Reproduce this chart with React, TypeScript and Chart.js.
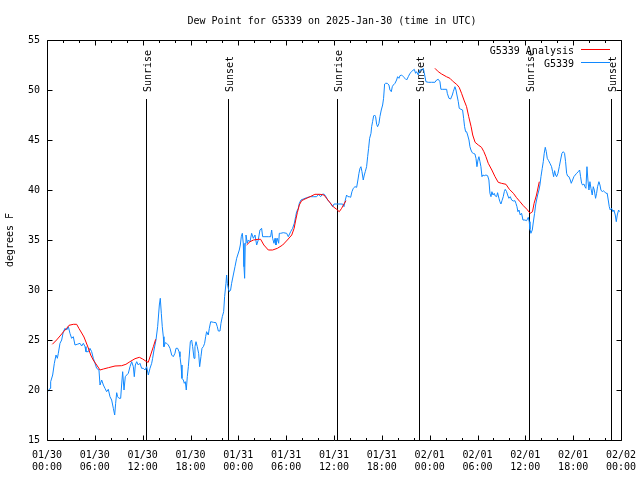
import React, { useEffect, useRef } from 'react';
import { Chart, registerables } from 'chart.js';

Chart.register(...registerables);

const FONT = "'DejaVu Sans Mono', 'Liberation Mono', monospace";

const chartTitle = 'Dew Point for G5339 on 2025-Jan-30 (time in UTC)';
const yAxisTitle = 'degrees F';
const obsLabel = 'G5339';
const anaLabel = 'G5339 Analysis';

// x tick labels, one every 6 hours from 01/30 00:00 UTC
const xTickDates = ['01/30', '01/30', '01/30', '01/30', '01/31', '01/31', '01/31', '01/31', '02/01', '02/01', '02/01', '02/01', '02/02'];
const xTickTimes = ['00:00', '06:00', '12:00', '18:00', '00:00', '06:00', '12:00', '18:00', '00:00', '06:00', '12:00', '18:00', '00:00'];

// sun events (hours since 01/30 00:00 UTC)
const sunHours = [12.42, 22.76, 36.42, 46.7, 60.5, 70.79];
const sunLabels = ['Sunrise', 'Sunset', 'Sunrise', 'Sunset', 'Sunrise', 'Sunset'];

// observations (hours since start, dew point in F)
const obsHours = [
  0.08, 0.38, 0.46, 0.71, 0.92, 1.13, 1.3, 1.42, 1.63, 1.84, 2.05, 2.26, 2.47, 2.68, 2.88, 3.09, 3.3, 3.51, 3.8, 4.14,
  4.35, 4.56, 4.77, 4.89, 5.18, 5.39, 5.6, 5.81, 6.02, 6.23, 6.52, 6.65, 6.86, 7.07, 7.27, 7.48, 7.69, 7.9, 8.11, 8.32,
  8.49, 8.61, 8.74, 8.86, 9.03, 9.24, 9.36, 9.49, 9.66, 9.82, 9.99, 10.2, 10.41, 10.62, 10.83, 10.95, 11.08, 11.25, 11.45, 11.66,
  11.87, 12.08, 12.29, 12.5, 12.71, 12.92, 13.13, 13.25, 13.42, 13.67, 13.88, 14.09, 14.21, 14.34, 14.46, 14.59, 14.67, 14.84, 15.01, 15.22,
  15.43, 15.64, 15.84, 16.05, 16.18, 16.39, 16.56, 16.68, 16.81, 16.93, 17.1, 17.22, 17.35, 17.47, 17.6, 17.73, 17.85, 17.98, 18.14, 18.27,
  18.44, 18.56, 18.69, 18.85, 19.02, 19.15, 19.31, 19.44, 19.61, 19.77, 19.9, 20.02, 20.23, 20.36, 20.53, 20.86, 21.2, 21.36, 21.49, 21.7,
  21.82, 21.99, 22.16, 22.28, 22.45, 22.53, 22.62, 22.74, 22.87, 23.03, 23.16, 23.37, 23.58, 23.79,
  24.12, 24.25, 24.37, 24.5, 24.62, 24.71, 24.79, 24.87, 24.96, 25.13, 25.25, 25.46, 25.67, 25.88, 26.09, 26.3, 26.5, 26.71, 26.92, 27.05,
  27.34, 27.76, 28.05, 28.18, 28.3, 28.47, 28.6, 28.72, 28.89, 29.06, 29.14, 29.31, 29.64, 30.06, 30.27, 30.56, 30.81, 31.02, 31.19, 31.31,
  31.52, 31.65, 31.86, 32.15, 32.57, 32.98, 33.4, 33.82, 34.07, 34.32, 34.57, 34.78, 34.99, 35.2, 35.41, 35.62, 35.83, 36.0, 36.33, 36.75,
  37.08, 37.25, 37.42, 37.58, 37.75, 37.92, 38.09, 38.25, 38.42, 38.63, 38.84, 39.0, 39.13, 39.26, 39.38, 39.51, 39.67, 39.8, 39.92, 40.09,
  40.22, 40.34, 40.47, 40.64, 40.72, 40.84, 40.97, 41.09, 41.22, 41.35, 41.47, 41.64, 41.76, 41.93, 42.1, 42.22, 42.35, 42.47, 42.68, 42.89,
  43.02, 43.19, 43.31, 43.44, 43.65, 43.85, 43.98, 44.15, 44.27, 44.48, 44.69, 44.9, 45.11, 45.32, 45.53, 45.74, 45.94, 46.07, 46.24, 46.36,
  46.57, 46.78, 46.99, 47.2, 47.32, 47.53, 47.83, 48.24, 48.66, 48.87, 49.08,
  49.29, 49.41, 49.58, 49.92, 50.13, 50.21, 50.42, 50.63, 50.84, 50.96, 51.17, 51.3, 51.42, 51.59, 51.71, 51.92, 52.13, 52.26, 52.38, 52.51,
  52.63, 52.76, 52.93, 53.05, 53.18, 53.34, 53.47, 53.68, 53.81, 53.93, 54.06, 54.18, 54.31, 54.43, 54.56, 54.68, 54.85, 55.06, 55.27, 55.43,
  55.56, 55.69, 55.81, 55.94, 56.1, 56.23, 56.4, 56.52, 56.69, 56.81, 56.94, 57.07, 57.23, 57.36, 57.48, 57.65, 57.78, 57.94, 58.11, 58.28,
  58.49, 58.7, 58.82, 58.95, 59.07, 59.2, 59.36, 59.53, 59.7, 59.95, 60.16, 60.37, 60.49, 60.58, 60.7, 60.87, 61.04, 61.16, 61.29, 61.41,
  61.54, 61.71, 61.83, 61.96, 62.12, 62.25, 62.37, 62.5, 62.63, 62.75, 62.92, 63.09, 63.29, 63.42, 63.55, 63.67, 63.8, 63.92, 64.09, 64.26,
  64.42, 64.59, 64.76, 64.92, 65.05, 65.18, 65.3, 65.47, 65.64, 65.76, 65.93, 66.09, 66.26, 66.43, 66.64, 66.81, 66.93, 67.06, 67.18, 67.35,
  67.47, 67.6, 67.73, 67.85, 67.98, 68.1, 68.23, 68.39, 68.52, 68.65, 68.81, 68.94, 69.06, 69.23, 69.36, 69.48, 69.65, 69.77, 69.94, 70.11,
  70.27, 70.4, 70.53, 70.65, 70.82, 70.99, 71.11, 71.28, 71.41, 71.53, 71.7, 71.82,
];
const obsDewF = [
  19.83, 20.17, 20.83, 21.5, 22.67, 23.5, 23.17, 23.67, 24.67, 25.0, 25.83, 26.17, 26.0, 26.33, 25.67, 25.17, 25.33, 24.5, 24.57, 24.67,
  24.4, 24.67, 24.33, 23.83, 23.83, 24.17, 23.83, 23.17, 22.67, 22.17, 22.0, 20.5, 21.0, 20.5, 20.17, 19.83, 20.07, 19.33, 19.0, 18.17,
  17.5, 18.67, 19.73, 19.33, 19.17, 19.17, 20.5, 21.83, 20.0, 21.33, 21.5, 21.67, 22.33, 22.83, 22.33, 21.33, 22.5, 22.83, 22.5, 22.67,
  22.17, 22.17, 22.0, 22.33, 21.5, 22.17, 22.67, 23.17, 24.0, 25.0, 26.33, 28.5, 29.17, 27.67, 26.33, 25.33, 24.33, 24.73, 24.67, 24.5,
  24.17, 23.5, 23.33, 23.67, 24.17, 24.17, 23.83, 23.33, 22.5, 21.17, 21.0, 20.67, 20.83, 20.0, 21.33, 22.33, 23.5, 24.83, 25.0, 24.33,
  23.17, 24.33, 24.83, 24.33, 23.67, 22.33, 23.33, 24.17, 24.33, 24.67, 25.33, 25.83, 25.5, 26.17, 26.83, 26.77, 26.73, 26.33, 25.9, 25.9,
  26.67, 27.33, 27.83, 29.33, 30.67, 31.5, 30.67, 30.17, 29.83, 30.0, 30.67, 31.5, 32.33, 33.17,
  34.0, 34.5, 35.33, 35.67, 34.67, 32.33, 31.17, 34.67, 35.5, 34.67, 35.0, 34.83, 35.67, 35.17, 35.5, 34.5, 35.0, 36.0, 36.17, 35.33,
  35.33, 35.33, 35.33, 36.0, 35.17, 34.67, 35.17, 34.5, 35.17, 34.67, 35.67, 35.67, 35.73, 35.67, 35.33, 35.83, 36.17, 36.67, 37.33, 37.83,
  38.17, 38.67, 39.0, 39.1, 39.23, 39.33, 39.33, 39.33, 39.57, 39.33, 39.6, 39.57, 39.33, 39.0, 38.83, 38.6, 38.33, 38.6, 38.6, 38.6,
  38.6, 38.33, 39.0, 39.5, 39.33, 39.33, 39.27, 39.83, 40.17, 40.33, 40.27, 41.0, 41.67, 42.17, 42.33, 41.83, 41.0, 41.5, 41.83, 42.33,
  43.33, 44.17, 45.17, 45.67, 46.33, 46.83, 47.4, 47.5, 47.33, 46.57, 46.33, 46.67, 47.33, 48.0, 48.5, 49.17, 50.6, 50.67, 50.67, 50.5,
  50.0, 49.83, 50.33, 50.5, 50.67, 51.0, 51.33, 51.17, 51.43, 51.5, 51.33, 51.17, 51.0, 51.33, 51.67, 51.83, 52.0, 52.07, 51.67, 51.83,
  51.5, 52.0, 52.0, 52.17, 51.73, 50.83, 50.77, 50.77, 50.77, 51.0, 51.07,
  50.83, 50.07, 50.07, 50.07, 50.07, 49.67, 49.17, 49.1, 49.5, 49.83, 50.33, 50.0, 49.5, 48.83, 48.17, 48.07, 48.0, 47.17, 46.33, 45.83,
  45.83, 45.5, 45.0, 44.33, 44.0, 43.73, 43.67, 43.6, 43.17, 42.33, 43.0, 43.33, 42.83, 42.33, 41.33, 41.5, 41.43, 41.5, 41.43, 41.0,
  39.67, 39.33, 39.83, 39.5, 39.67, 39.4, 39.33, 39.73, 39.17, 38.83, 38.6, 38.93, 39.33, 39.83, 40.07, 39.83, 39.5, 39.17, 39.33, 39.0,
  38.9, 38.93, 38.67, 38.33, 37.83, 38.0, 37.5, 37.67, 37.0, 37.0, 36.93, 37.27, 36.83, 36.07, 35.67, 36.0, 37.0, 37.67, 38.5, 39.0,
  39.5, 40.0, 40.5, 41.33, 42.17, 42.83, 43.67, 44.27, 43.83, 43.17, 42.93, 42.67, 42.33, 41.83, 41.33, 41.93, 41.5, 41.33, 41.67, 42.33,
  43.0, 43.67, 43.83, 43.67, 42.83, 41.67, 41.4, 41.33, 41.0, 40.67, 41.0, 41.33, 41.5, 41.67, 41.83, 42.0, 41.33, 40.67, 40.5, 40.6,
  40.33, 40.17, 42.33, 41.0, 40.0, 40.83, 40.17, 39.5, 40.33, 40.0, 39.17, 39.67, 40.33, 40.83, 40.5, 40.0, 39.83, 39.93, 39.83, 39.67,
  39.67, 39.0, 38.33, 38.0, 38.17, 37.83, 38.0, 37.5, 36.83, 37.5, 38.0, 37.83,
];

// analysis (null = no analysis, breaks the line)
const anaHours = [
  0.67, 1.2, 1.63, 2.05, 2.47, 2.76, 3.3, 3.72, 4.0, 4.35, 4.64, 4.89, 5.18, 5.48, 5.8, 6.23, 6.65, 7.07, 7.7, 8.53,
  9.36, 9.9, 10.4, 11.04, 11.58, 12.0, 12.5, 12.7, 13.0, 13.34, 13.63,
  19.0,
  25.04, 25.46, 25.9, 26.5, 26.8, 27.2, 27.76, 28.3, 28.9, 29.56, 30.15, 30.7, 31.0, 31.2, 31.4, 31.65, 31.94, 32.36, 33.0, 33.6,
  34.24, 34.74, 35.07, 35.5, 35.9, 36.33, 36.66, 36.96, 37.25, 37.5,
  43.0,
  48.66, 49.08, 49.5, 50.1, 50.54, 50.96, 51.38, 51.7, 52.0, 52.3, 52.63, 52.9, 53.2, 53.4, 53.7, 54.1, 54.5, 54.8, 55.06, 55.35,
  55.8, 56.2, 56.6, 57.0, 57.57, 58.0, 58.5, 58.9, 59.33, 59.75, 60.2, 60.6, 60.9, 61.1, 61.4, 61.75,
];
const anaDewF = [
  24.57, 25.0, 25.4, 25.8, 26.17, 26.47, 26.57, 26.57, 26.17, 25.7, 25.3, 24.8, 24.2, 23.5, 23.0, 22.5, 22.0, 22.1, 22.23, 22.4,
  22.43, 22.57, 22.83, 23.13, 23.27, 23.1, 22.83, 22.77, 23.5, 24.33, 25.07,
  null,
  34.5, 34.83, 35.0, 35.07, 35.07, 34.5, 34.0, 34.0, 34.17, 34.5, 35.0, 35.5, 36.17, 37.0, 37.73, 38.5, 38.93, 39.1, 39.33, 39.57,
  39.57, 39.5, 39.17, 38.73, 38.33, 38.07, 37.83, 38.17, 38.6, 38.93,
  null,
  52.17, 51.83, 51.6, 51.33, 51.17, 50.83, 50.57, 50.27, 49.67, 49.0, 48.33, 47.33, 46.33, 45.5, 44.77, 44.5, 44.27, 43.83, 43.33, 42.67,
  42.0, 41.33, 40.77, 40.67, 40.57, 40.07, 39.67, 39.23, 38.83, 38.43, 38.07, 37.67, 37.83, 38.67, 39.5, 40.83,
];

const OBS_COLOR = 'rgb(16,136,255)';
const ANA_COLOR = 'rgb(255,0,0)';

const decorPlugin = {
  id: 'gnuplotDecor',
  beforeDatasetsDraw(chart: any) {
    const { ctx, chartArea: a, scales } = chart;
    const x = scales.x;
    const y = scales.y;
    ctx.save();
    ctx.strokeStyle = '#000';
    ctx.fillStyle = '#000';
    ctx.lineWidth = 1;
    ctx.font = `10px ${FONT}`;
    sunHours.forEach((h, i) => {
      const px = Math.round(x.getPixelForValue(h)) + 0.5;
      const top = Math.round(y.getPixelForValue(49.1));
      ctx.beginPath();
      ctx.moveTo(px, top);
      ctx.lineTo(px, a.bottom);
      ctx.stroke();
      ctx.save();
      ctx.translate(px + 4.5, y.getPixelForValue(50) + 2);
      ctx.rotate(-Math.PI / 2);
      ctx.textAlign = 'left';
      ctx.textBaseline = 'alphabetic';
      ctx.fillText(sunLabels[i], 0, 0);
      ctx.restore();
    });
    ctx.restore();
  },
  afterDraw(chart: any) {
    const { ctx, chartArea: a, scales } = chart;
    const x = scales.x;
    const y = scales.y;
    ctx.save();
    ctx.strokeStyle = '#000';
    ctx.lineWidth = 1;
    const L = Math.round(a.left) + 0.5;
    const R = Math.round(a.right) + 0.5;
    const T = Math.round(a.top) + 0.5;
    const B = Math.round(a.bottom) + 0.5;
    ctx.beginPath();
    // frame
    ctx.rect(L, T, R - L, B - T);
    // x ticks (major every 6 h, minor every 2 h), inward, top and bottom
    for (let h = 0; h <= 72; h += 2) {
      const px = Math.round(x.getPixelForValue(h)) + 0.5;
      const len = h % 6 === 0 ? 5 : 2.5;
      ctx.moveTo(px, B);
      ctx.lineTo(px, B - len);
      ctx.moveTo(px, T);
      ctx.lineTo(px, T + len);
    }
    // y ticks, inward, left and right
    for (let v = 15; v <= 55; v += 5) {
      const py = Math.round(y.getPixelForValue(v)) + 0.5;
      ctx.moveTo(L, py);
      ctx.lineTo(L + 5, py);
      ctx.moveTo(R, py);
      ctx.lineTo(R - 5, py);
    }
    ctx.stroke();

    // title
    ctx.fillStyle = '#000';
    ctx.font = `10px ${FONT}`;
    ctx.textAlign = 'center';
    ctx.textBaseline = 'alphabetic';
    ctx.fillText(chartTitle, (a.left + a.right) / 2 - 2, a.top - 16);

    // legend
    const rows = [
      { label: anaLabel, color: ANA_COLOR },
      { label: obsLabel, color: OBS_COLOR },
    ];
    rows.forEach((r, i) => {
      const base = a.top + 13.5 + i * 13;
      ctx.textAlign = 'right';
      ctx.fillStyle = '#000';
      ctx.fillText(r.label, a.right - 47, base);
      ctx.strokeStyle = r.color;
      ctx.beginPath();
      const ly = Math.round(a.top + 9 + i * 13) + 0.5;
      ctx.moveTo(a.right - 40, ly);
      ctx.lineTo(a.right - 11, ly);
      ctx.stroke();
    });
    ctx.restore();
  },
};

export default function App() {
  const canvasRef = useRef<HTMLCanvasElement | null>(null);

  useEffect(() => {
    const canvas = canvasRef.current;
    if (!canvas) return;
    const obsData = obsHours.map((h, i) => ({ x: h, y: obsDewF[i] }));
    const anaData = anaHours.map((h, i) => ({ x: h, y: anaDewF[i] }));
    const tickFont = { family: FONT, size: 10, lineHeight: 1.25 };

    const chart = new Chart(canvas, {
      type: 'line',
      data: {
        datasets: [
          {
            label: anaLabel,
            data: anaData as any,
            borderColor: ANA_COLOR,
            borderWidth: 1,
            pointRadius: 0,
            tension: 0,
            spanGaps: false,
            fill: false,
          },
          {
            label: obsLabel,
            data: obsData,
            borderColor: OBS_COLOR,
            borderWidth: 1,
            pointRadius: 0,
            tension: 0,
            fill: false,
          },
        ],
      },
      options: {
        animation: false,
        responsive: false,
        devicePixelRatio: 1,
        layout: { padding: { top: 40, right: 19, left: 0, bottom: 0 } },
        plugins: {
          legend: { display: false },
          title: { display: false },
          tooltip: { enabled: false },
        },
        scales: {
          x: {
            type: 'linear',
            min: 0,
            max: 72,
            grid: { display: false, drawTicks: false },
            border: { display: false },
            ticks: {
              stepSize: 6,
              autoSkip: false,
              maxRotation: 0,
              minRotation: 0,
              padding: 9,
              color: '#000',
              font: tickFont,
              callback: (v: any) => {
                const idx = Math.round(Number(v) / 6);
                return [xTickDates[idx], xTickTimes[idx]];
              },
            },
            afterFit: (s: any) => {
              s.height = 40;
              s.paddingLeft = 0;
              s.paddingRight = 0;
            },
          },
          y: {
            type: 'linear',
            min: 15,
            max: 55,
            grid: { display: false, drawTicks: false },
            border: { display: false },
            ticks: {
              stepSize: 5,
              padding: 7,
              color: '#000',
              font: tickFont,
            },
            title: {
              display: true,
              text: yAxisTitle,
              color: '#000',
              font: { family: FONT, size: 10 },
              padding: { top: 4, bottom: 4 },
            },
            afterFit: (s: any) => {
              s.width = 47;
              s.paddingTop = 0;
              s.paddingBottom = 0;
            },
          },
        },
      },
      plugins: [decorPlugin],
    });
    return () => chart.destroy();
  }, []);

  return (
    <div style={{ position: 'absolute', left: 0, top: 0, width: 640, height: 480, background: '#fff' }}>
      <canvas ref={canvasRef} width={640} height={480} style={{ display: 'block' }} />
    </div>
  );
}
